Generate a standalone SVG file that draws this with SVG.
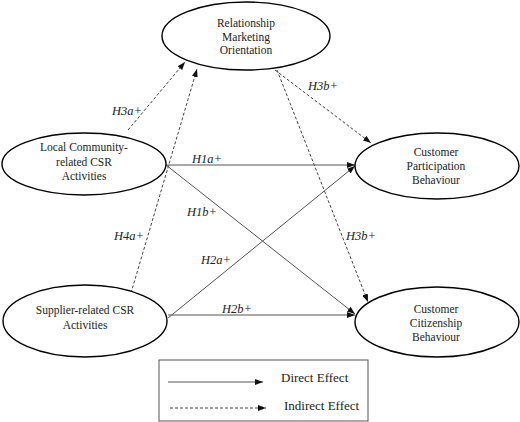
<svg xmlns="http://www.w3.org/2000/svg" width="520" height="422" viewBox="0 0 520 422">
<defs>
<marker id="arr" viewBox="0 0 8 6" refX="8" refY="3" markerWidth="8" markerHeight="6" markerUnits="userSpaceOnUse" orient="auto">
<path d="M0,0 L8,3 L0,6 z" fill="#111"/>
</marker>
<style>
.node ellipse{fill:#fff;stroke:#000;stroke-width:1.4}
.nt{font-family:"Liberation Serif","Times New Roman",serif;font-size:11.5px;fill:#222;text-anchor:middle}
.lbl{font-family:"Liberation Serif","Times New Roman",serif;font-size:12.5px;font-style:italic;fill:#222}
.d{stroke:#555;stroke-width:1;fill:none;marker-end:url(#arr)}
.i{stroke:#444;stroke-width:1;fill:none;stroke-dasharray:3,2;marker-end:url(#arr)}
.lg{font-family:"Liberation Serif","Times New Roman",serif;font-size:13px;fill:#222}
</style>
</defs>
<rect width="520" height="422" fill="#fff"/>
<g id="connectors">
<line class="i" x1="128" y1="130" x2="185" y2="62"/>
<line class="i" x1="131" y1="293" x2="197" y2="69"/>
<line class="i" x1="275" y1="70" x2="371" y2="143"/>
<line class="i" x1="277" y1="70" x2="368" y2="302"/>
<line class="d" x1="166" y1="165" x2="355" y2="165"/>
<line class="d" x1="166" y1="165" x2="355" y2="314"/>
<line class="d" x1="168" y1="318" x2="355" y2="166"/>
<line class="d" x1="168" y1="315" x2="355" y2="315"/>
<text class="lbl" x="112" y="115">H3a+</text>
<text class="lbl" x="308" y="90">H3b+</text>
<text class="lbl" x="192" y="163">H1a+</text>
<text class="lbl" x="187" y="216">H1b+</text>
<text class="lbl" x="346" y="240">H3b+</text>
<text class="lbl" x="114" y="240">H4a+</text>
<text class="lbl" x="201" y="264">H2a+</text>
<text class="lbl" x="222" y="313">H2b+</text>
</g>
<g id="rmo" class="node">
<ellipse cx="246" cy="36" rx="84" ry="34"/>
<text class="nt" x="246" y="27">Relationship</text>
<text class="nt" x="246" y="40.5">Marketing</text>
<text class="nt" x="246" y="54">Orientation</text>
</g>
<g id="local" class="node">
<ellipse cx="84" cy="164" rx="82" ry="31"/>
<text class="nt" x="84" y="151">Local Community-</text>
<text class="nt" x="84" y="166">related CSR</text>
<text class="nt" x="84" y="180">Activities</text>
</g>
<g id="cpb" class="node">
<ellipse cx="437" cy="166" rx="82" ry="33"/>
<text class="nt" x="436" y="155.5">Customer</text>
<text class="nt" x="436" y="170">Participation</text>
<text class="nt" x="436" y="184">Behaviour</text>
</g>
<g id="supplier" class="node">
<ellipse cx="85" cy="321" rx="82" ry="36"/>
<text class="nt" x="85" y="314">Supplier-related CSR</text>
<text class="nt" x="85" y="329">Activities</text>
</g>
<g id="ccb" class="node">
<ellipse cx="437" cy="322" rx="82" ry="35"/>
<text class="nt" x="436" y="313">Customer</text>
<text class="nt" x="436" y="327">Citizenship</text>
<text class="nt" x="436" y="341">Behaviour</text>
</g>
<g id="legend">
<rect x="159" y="360" width="209" height="61" fill="#fff" stroke="#555" stroke-width="1"/>
<line class="d" x1="168" y1="382" x2="263" y2="382"/>
<line class="i" x1="170" y1="408" x2="266" y2="408"/>
<text class="lg" x="281" y="382">Direct Effect</text>
<text class="lg" x="284" y="410">Indirect Effect</text>
</g>
</svg>
